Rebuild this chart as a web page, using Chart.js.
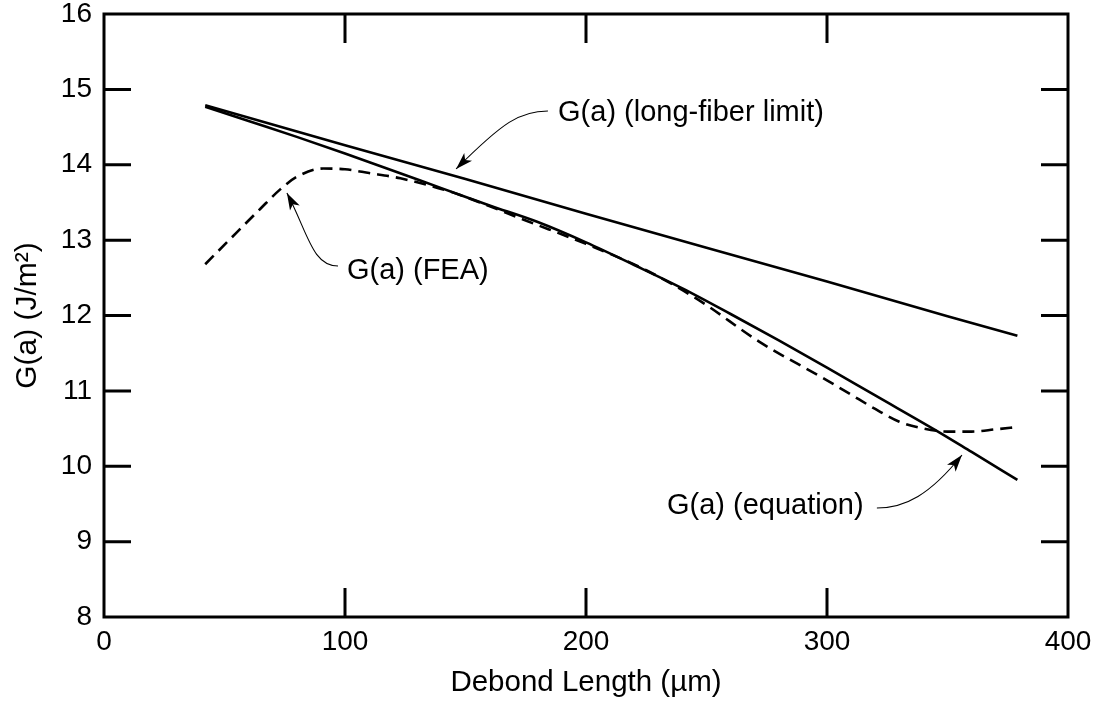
<!DOCTYPE html>
<html>
<head>
<meta charset="utf-8">
<script src="https://cdn.jsdelivr.net/npm/chart.js@4/dist/chart.umd.min.js"></script>
<style>
html,body{margin:0;padding:0;background:#fff;}
#wrap{width:1096px;height:704px;position:relative;}
</style>
</head>
<body>
<div id="wrap"><canvas id="c"></canvas></div>
<script>
// ---- data ----
const xTickLabels = [0, 100, 200, 300, 400];
const yTickLabels = [8, 9, 10, 11, 12, 13, 14, 15, 16];

const longFiberX = [42, 100, 150, 200, 250, 300, 350, 379];
const longFiberY = [14.79, 14.26, 13.81, 13.35, 12.90, 12.45, 11.99, 11.73];

const equationX = [42, 60, 80, 100, 120, 140, 160, 180, 200, 220, 240, 260, 280, 300, 320, 345, 360, 379];
const equationY = [14.77, 14.58, 14.37, 14.15, 13.92, 13.69, 13.46, 13.24, 12.97, 12.67, 12.36, 12.02, 11.67, 11.31, 10.94, 10.48, 10.19, 9.82];

const feaX = [42, 55, 65, 73, 80, 91, 100, 110, 123, 144, 156, 175, 200, 225, 247, 272, 300, 310, 320, 330, 340, 350, 360, 370, 379];
const feaY = [12.68, 13.10, 13.42, 13.67, 13.84, 13.95, 13.94, 13.89, 13.82, 13.64, 13.50, 13.26, 12.95, 12.60, 12.20, 11.65, 11.14, 10.95, 10.76, 10.59, 10.50, 10.46, 10.46, 10.49, 10.52];

const FONT = '"Liberation Sans", Arial, Helvetica, sans-serif';
const toPts = (xs, ys) => xs.map((x, i) => ({x: x, y: ys[i]}));

// frame + inward ticks drawn through the scales
const framePlugin = {
  id: 'frame',
  afterDatasetsDraw(chart) {
    const {ctx, chartArea: a, scales: {x, y}} = chart;
    ctx.save();
    ctx.strokeStyle = '#000';
    ctx.lineWidth = 3;
    ctx.beginPath();
    xTickLabels.forEach(v => {
      if (v <= x.min || v >= x.max) return;
      const px = x.getPixelForValue(v);
      ctx.moveTo(px, a.bottom); ctx.lineTo(px, a.bottom - 29);
      ctx.moveTo(px, a.top); ctx.lineTo(px, a.top + 29);
    });
    yTickLabels.forEach(v => {
      if (v <= y.min || v >= y.max) return;
      const py = y.getPixelForValue(v);
      ctx.moveTo(a.left, py); ctx.lineTo(a.left + 27, py);
      ctx.moveTo(a.right, py); ctx.lineTo(a.right - 27, py);
    });
    ctx.stroke();
    ctx.lineJoin = 'miter';
    ctx.strokeRect(a.left, a.top, a.right - a.left, a.bottom - a.top);
    ctx.restore();
  }
};

// callout labels with curved arrows (positions in data units)
const notes = [
  {text: 'G(a) (long-fiber limit)', tx: 188.4, ty: 14.69,
   path: [[184.2, 14.713], [172.6, 14.713], [165.6, 14.567], [146.1, 13.944]]},
  {text: 'G(a) (FEA)', tx: 100.8, ty: 12.597,
   path: [[97.1, 12.657], [86.3, 12.657], [84.6, 13.10], [75.9, 13.625]]},
  {text: 'G(a) (equation)', tx: 233.6, ty: 9.479,
   path: [[320.7, 9.446], [332.4, 9.446], [342.7, 9.62], [356.0, 10.149]]}
];

const notePlugin = {
  id: 'notes',
  afterDatasetsDraw(chart) {
    const {ctx, scales: {x, y}} = chart;
    ctx.save();
    ctx.fillStyle = '#000';
    ctx.strokeStyle = '#000';
    ctx.font = '29px ' + FONT;
    ctx.textAlign = 'left';
    ctx.textBaseline = 'middle';
    notes.forEach(n => {
      ctx.fillText(n.text, x.getPixelForValue(n.tx), y.getPixelForValue(n.ty));
      const p = n.path.map(q => [x.getPixelForValue(q[0]), y.getPixelForValue(q[1])]);
      ctx.lineWidth = 1.1;
      ctx.beginPath();
      ctx.moveTo(p[0][0], p[0][1]);
      ctx.bezierCurveTo(p[1][0], p[1][1], p[2][0], p[2][1], p[3][0], p[3][1]);
      ctx.stroke();
      const dx = p[3][0] - p[2][0], dy = p[3][1] - p[2][1];
      const L = Math.hypot(dx, dy) || 1;
      const ux = dx / L, uy = dy / L;
      const len = 17, w = 5.5;
      const bx = p[3][0] - ux * len, by = p[3][1] - uy * len;
      ctx.beginPath();
      ctx.moveTo(p[3][0], p[3][1]);
      ctx.lineTo(bx - uy * w, by + ux * w);
      ctx.lineTo(p[3][0] - ux * len * 0.75, p[3][1] - uy * len * 0.75);
      ctx.lineTo(bx + uy * w, by - ux * w);
      ctx.closePath();
      ctx.fill();
    });
    ctx.restore();
  }
};

const noPad = s => { s.paddingTop = 0; s.paddingBottom = 0; s.paddingLeft = 0; s.paddingRight = 0; };

new Chart(document.getElementById('c'), {
  type: 'line',
  data: {
    datasets: [
      {label: 'G(a) (long-fiber limit)', data: toPts(longFiberX, longFiberY),
       borderColor: '#000', borderWidth: 2.6, pointRadius: 0, fill: false},
      {label: 'G(a) (equation)', data: toPts(equationX, equationY),
       borderColor: '#000', borderWidth: 2.6, pointRadius: 0, fill: false, cubicInterpolationMode: 'monotone'},
      {label: 'G(a) (FEA)', data: toPts(feaX, feaY),
       borderColor: '#000', borderWidth: 2.6, borderDash: [12, 7], pointRadius: 0, fill: false, cubicInterpolationMode: 'monotone'}
    ]
  },
  options: {
    responsive: true,
    maintainAspectRatio: false,
    animation: false,
    devicePixelRatio: 1,
    layout: {padding: {top: 14, right: 28, left: 0, bottom: 0}},
    plugins: {legend: {display: false}, tooltip: {enabled: false}},
    scales: {
      x: {
        type: 'linear', min: 0, max: 400,
        afterBuildTicks: s => { s.ticks = xTickLabels.map(v => ({value: v})); },
        afterFit: s => { s.height = 87; noPad(s); },
        grid: {display: false, drawTicks: false},
        border: {display: false},
        ticks: {color: '#000', padding: 11, maxRotation: 0, font: {family: FONT, size: 28, lineHeight: 1}},
        title: {display: true, text: 'Debond Length (µm)', color: '#000',
                font: {family: FONT, size: 29.5, lineHeight: 1}, padding: {top: 0, bottom: 6}}
      },
      y: {
        type: 'linear', min: 8, max: 16,
        afterBuildTicks: s => { s.ticks = yTickLabels.map(v => ({value: v})); },
        afterFit: s => { s.width = 104; noPad(s); },
        grid: {display: false, drawTicks: false},
        border: {display: false},
        ticks: {color: '#000', padding: 12, font: {family: FONT, size: 28, lineHeight: 1}},
        title: {display: true, text: 'G(a) (J/m²)', color: '#000',
                font: {family: FONT, size: 30, lineHeight: 1}, padding: {top: 13, bottom: 0}}
      }
    }
  },
  plugins: [framePlugin, notePlugin]
});
</script>
</body>
</html>
